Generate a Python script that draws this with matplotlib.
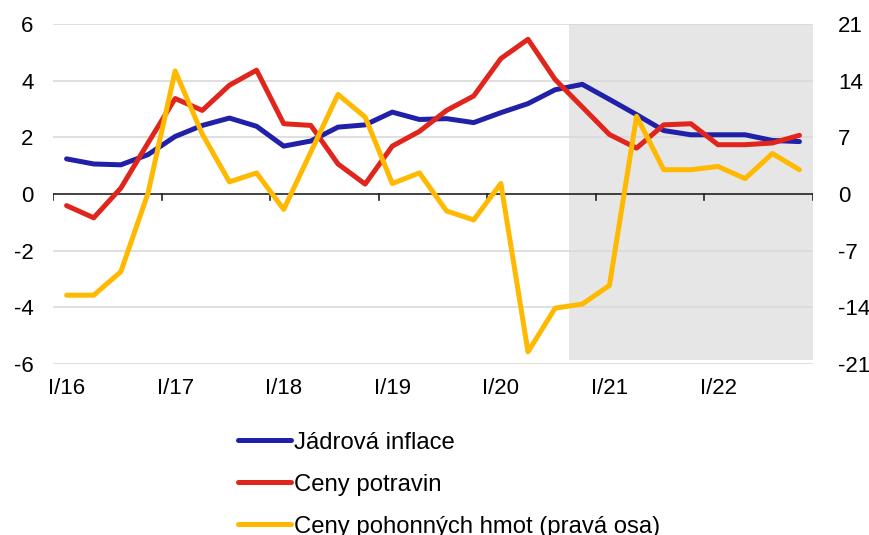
import matplotlib
matplotlib.use("Agg")
import matplotlib.pyplot as plt
import numpy as np

plt.rcParams['font.family'] = ['Liberation Sans', 'DejaVu Sans']
plt.rcParams['axes.unicode_minus'] = False

quarters = [f"{q}/{y}" for y in range(16, 23) for q in ["I", "II", "III", "IV"]]
year_labels = ["I/16", "I/17", "I/18", "I/19", "I/20", "I/21", "I/22"]

core_inflation = [1.24, 1.06, 1.03, 1.39, 2.03, 2.42, 2.68, 2.39, 1.69, 1.87,
                  2.36, 2.44, 2.89, 2.63, 2.66, 2.52, 2.87, 3.19, 3.68, 3.87,
                  3.34, 2.80, 2.24, 2.09, 2.09, 2.09, 1.89, 1.85]
food_prices = [-0.41, -0.84, 0.21, 1.8, 3.37, 2.95, 3.84, 4.37, 2.48, 2.42,
               1.06, 0.35, 1.69, 2.21, 2.95, 3.46, 4.78, 5.46, 4.04, 3.07,
               2.10, 1.62, 2.44, 2.48, 1.74, 1.74, 1.80, 2.07]
fuel_prices = [-12.5, -12.5, -9.6, 0.1, 15.2, 7.4, 1.5, 2.6, -1.9, 5.2,
               12.3, 9.5, 1.3, 2.6, -2.1, -3.2, 1.3, -19.5, -14.1, -13.6,
               -11.3, 9.6, 3.0, 3.0, 3.4, 1.9, 5.0, 3.0]

labels = ["Jádrová inflace", "Ceny potravin", "Ceny pohonných hmot (pravá osa)"]
colors = ["#2020A8", "#E0261C", "#FFB900"]
forecast_start = 19  # index of first forecast quarter (IV/20)

fig = plt.figure(figsize=(8.7, 5.35), dpi=100)
ax = fig.add_axes([53/870, 1-364/535, (813-53)/870, (364-24)/535])
ax2 = ax.twinx()

x = np.arange(len(quarters))

ax.axvspan(forecast_start - 0.5, len(quarters) - 0.5, ymin=0.012, ymax=1.0,
           color="#E6E6E6", lw=0, zorder=0)

ax.set_ylim(-6, 6)
ax.set_yticks(np.arange(-6, 7, 2))
for v in np.arange(-6, 7, 2):
    if v != 0:
        ax.axhline(v, color="#D9D9D9", lw=1.2, zorder=1)
ax.axhline(0, color="#222222", lw=1.2, zorder=2)
for b in np.arange(-0.5, len(quarters), 4):
    ax.plot([b, b], [0, -0.22], color="#222222", lw=1.2, zorder=2)

ax.set_xlim(-0.5, len(quarters) - 0.5)
ax.set_xticks(x[::4])
ax.set_xticklabels(year_labels)

l1, = ax.plot(x, core_inflation, color=colors[0], lw=3.6, zorder=4, solid_capstyle='round')
l2, = ax.plot(x, food_prices, color=colors[1], lw=3.6, zorder=5, solid_capstyle='round')
l3, = ax2.plot(x, fuel_prices, color=colors[2], lw=3.6, zorder=3, solid_capstyle='round')

ax2.set_ylim(-21, 21)
ax2.set_yticks(np.arange(-21, 22, 7))

for a in (ax, ax2):
    for s in a.spines.values():
        s.set_visible(False)
    a.tick_params(axis='both', length=0, labelsize=16, colors="black")
ax.tick_params(axis='y', pad=14)
ax.tick_params(axis='x', pad=10)
ax2.tick_params(axis='y', pad=18)

fig.legend([l1, l2, l3], labels, loc='upper left', bbox_to_anchor=(228/870, 1-422/535),
           frameon=False, fontsize=17.2, handlelength=2.25, handletextpad=0.1,
           labelspacing=0.84, borderaxespad=0)

fig.savefig("out.png", dpi=100)
